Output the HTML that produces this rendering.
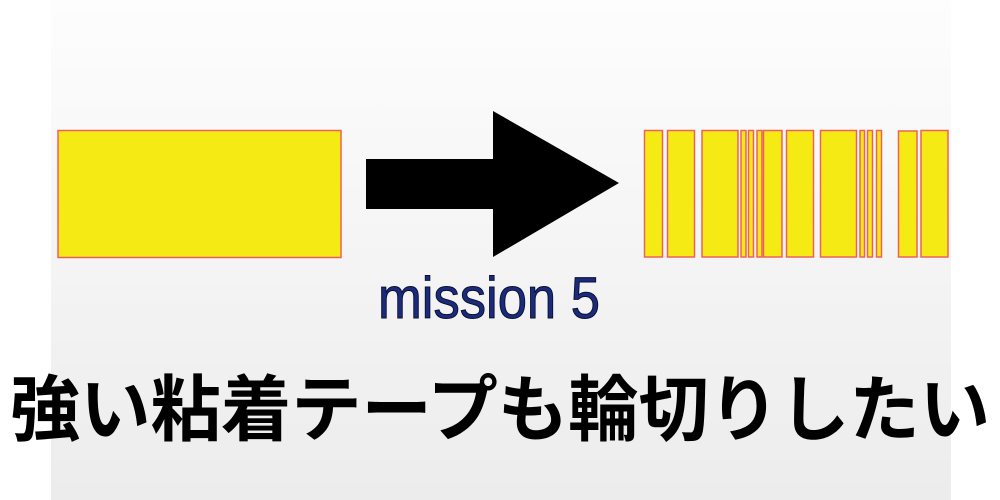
<!DOCTYPE html>
<html><head><meta charset="utf-8"><style>
html,body{margin:0;padding:0;background:#fff;}
body{width:1000px;height:500px;overflow:hidden;position:relative;}
</style></head><body>
<svg width="1000" height="500" viewBox="0 0 1000 500" xmlns="http://www.w3.org/2000/svg" style="position:absolute;left:0;top:0">
<defs><linearGradient id="g" x1="0" y1="0" x2="0" y2="1">
<stop offset="0" stop-color="#fdfdfd"/><stop offset="1" stop-color="#ececec"/></linearGradient></defs>
<rect x="0" y="0" width="1000" height="500" fill="#fff"/>
<rect x="51" y="0" width="900" height="500" fill="url(#g)"/>
<g fill="#f5ea14" stroke="#f0605a" stroke-width="1.5">
<rect x="58" y="130.5" width="283" height="127"/>
<rect x="644.5" y="130.5" width="18" height="126.5"/>
<rect x="667.5" y="130.5" width="27" height="126.5"/>
<rect x="702" y="130.5" width="36" height="126.5"/>
<rect x="741" y="130.5" width="5" height="126.5"/>
<rect x="748.5" y="130.5" width="5" height="126.5"/>
<rect x="757" y="130.5" width="5" height="126.5"/>
<rect x="763.5" y="130.5" width="18.5" height="126.5"/>
<rect x="786.5" y="130.5" width="27" height="126.5"/>
<rect x="820.5" y="130.5" width="36" height="126.5"/>
<rect x="860" y="130.5" width="4.5" height="126.5"/>
<rect x="867.5" y="130.5" width="5" height="126.5"/>
<rect x="876.5" y="130.5" width="5" height="126.5"/>
<rect x="898.5" y="131" width="18.5" height="126"/>
<rect x="921" y="130.5" width="27" height="126.5"/>
</g>
<polygon points="366,159 493,159 493,111 619,183 493,257 493,209 366,209" fill="#000"/>
<text x="378" y="318" font-family="Liberation Sans, sans-serif" font-size="58" fill="#1b2a7a" stroke="#0a0f30" stroke-width="1" textLength="222" lengthAdjust="spacingAndGlyphs">mission 5</text>
<text x="10" y="435" font-family="Liberation Sans, Noto Sans CJK JP, sans-serif" font-weight="bold" font-size="72" fill="#000" textLength="980" lengthAdjust="spacingAndGlyphs">強い粘着テープも輪切りしたい</text>
</svg>
</body></html>
